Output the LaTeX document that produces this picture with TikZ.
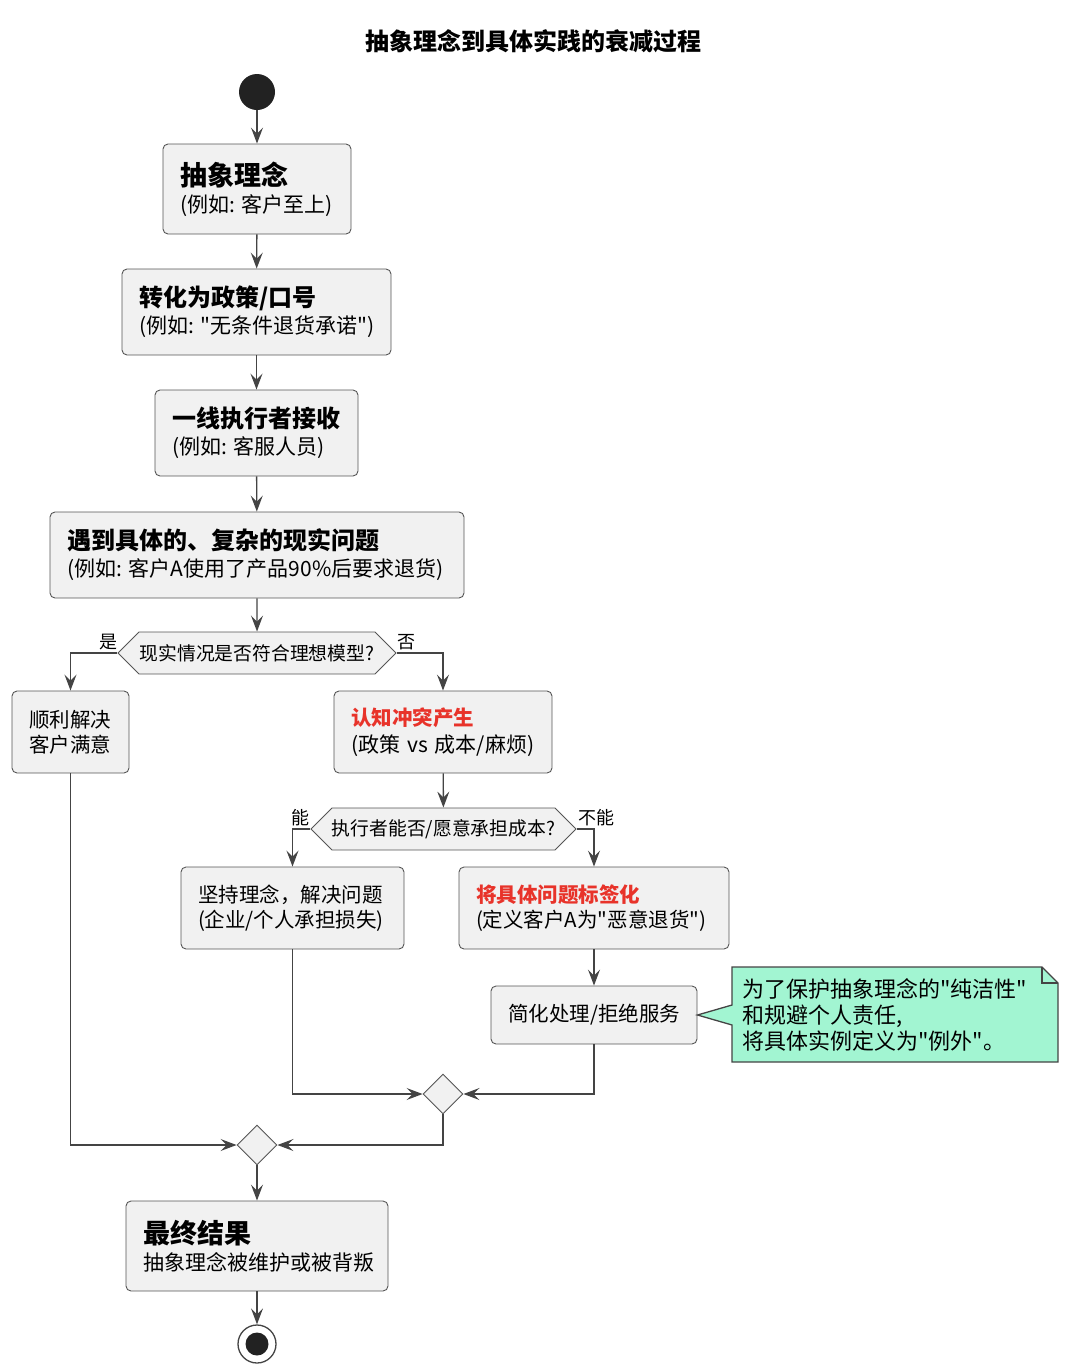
\documentclass[tikz,border=0pt]{standalone}
\usepackage{fontspec}
\setmainfont{Noto Sans CJK SC}[Ligatures=TeXOff]
\usetikzlibrary{arrows.meta,shapes.geometric,shapes.symbols}
\definecolor{boxfill}{HTML}{F1F1F1}
\definecolor{boxline}{HTML}{555555}
\definecolor{flowline}{HTML}{444444}
\definecolor{alertred}{HTML}{E8332A}
\definecolor{notefill}{HTML}{A2F5D2}
\definecolor{dotblack}{HTML}{222222}
\newcommand\boldline[2][24]{{\bfseries\fontsize{#1}{#1}\selectfont #2}}
\tikzset{
  act/.style={draw=boxline, fill=boxfill, rounded corners=5pt, line width=0.9pt, align=left,
    inner xsep=17pt, inner ysep=0pt, font=\fontsize{21}{27}\selectfont},
  ask/.style={signal, signal to=west and east, signal pointer angle=90, draw=boxline,
    fill=boxfill, line width=0.9pt, inner sep=0pt, font=\fontsize{18.8}{22}\selectfont},
  mergebox/.style={diamond, draw=boxline, fill=boxfill, line width=0.9pt, minimum size=40pt, inner sep=0pt},
  flow/.style={draw=flowline, line width=1.4pt, -{Stealth[length=16pt,width=12pt,inset=6pt]}},
  tag/.style={font=\fontsize{18}{20}\selectfont, inner sep=0pt},
}

\begin{document}
\begin{tikzpicture}[x=1pt,y=-1pt]
  %%%%% START %%%%%
  \useasboundingbox (0,0) rectangle (1080,1368);

  \node[font=\bfseries\fontsize{24}{26}\selectfont] (title) at (533,41) {抽象理念到具体实践的衰减过程};

  \node[circle, fill=dotblack, minimum size=36pt, inner sep=0pt] (start) at (257,92) {};

  \node[act, text width=154pt, minimum height=90pt] (abs) at (257,189)
    {\boldline[27]{抽象理念}\\(例如:~客户至上)};
  \node[act, text width=235pt, minimum height=86pt] (pol) at (256.5,312)
    {\boldline{转化为政策/口号}\\(例如:~"无条件退货承诺")};
  \node[act, text width=169pt, minimum height=86pt] (rec) at (256.5,433)
    {\boldline{一线执行者接收}\\(例如:~客服人员)};
  \node[act, text width=380pt, minimum height=86pt] (real) at (257,555)
    {\boldline{遇到具体的、复杂的现实问题}\\(例如:~客户A使用了产品90\%后要求退货)};

  % first decision
  \node[ask, minimum width=278pt, minimum height=42pt] (q1) at (257,653) {现实情况是否符合理想模型?};
  \node[tag] (yes) at (108,642) {是};
  \node[tag] (no) at (406,642) {否};

  \node[act, text width=83pt, minimum height=82pt, font=\fontsize{20.5}{25}\selectfont] (ok) at (70.5,732)
    {顺利解决\\客户满意};
  \node[act, text width=184pt, minimum height=82pt] (conf) at (443,732)
    {\boldline[20.5]{\textcolor{alertred}{认知冲突产生}}\\(政策~vs~成本/麻烦)};

  % second decision
  \node[ask, minimum width=265pt, minimum height=42pt] (q2) at (443.5,829) {执行者能否/愿意承担成本?};
  \node[tag] (can) at (300,818) {能};
  \node[tag] (cannot) at (596,818) {不能};

  \node[act, text width=189pt, minimum height=82pt, font=\fontsize{20.5}{25}\selectfont] (keep) at (292.5,908)
    {坚持理念，解决问题\\(企业/个人承担损失)};
  \node[act, text width=236pt, minimum height=82pt, font=\fontsize{20.5}{25}\selectfont] (label) at (594,908)
    {\boldline[20.5]{\textcolor{alertred}{将具体问题标签化}}\\(定义客户A为"恶意退货")};
  \node[act, text width=172pt, minimum height=58pt, font=\fontsize{20.5}{25}\selectfont] (simp) at (594,1015)
    {简化处理/拒绝服务};

  % note
  \draw[draw=flowline, fill=notefill, line width=1.3pt]
    (732,967) -- (1042,967) -- (1058,983) -- (1058,1062) -- (732,1062) -- (732,1025)
    -- (simp.east) -- (732,1005) -- cycle;
  \draw[draw=flowline, line width=1.3pt] (1042,967) -- (1042,983) -- (1058,983);
  \node[anchor=west, align=left, inner sep=0pt, font=\fontsize{22}{26}\selectfont] (note) at (742,1014.5)
    {为了保护抽象理念的"纯洁性"\\和规避个人责任,\\将具体实例定义为"例外"。};

  \node[mergebox] (m1) at (443,1094) {};
  \node[mergebox] (m2) at (257,1145) {};

  \node[act, text width=228pt, minimum height=90pt] (final) at (257,1246)
    {\boldline[27]{最终结果}\\抽象理念被维护或被背叛};

  \node[circle, draw=flowline, fill=white, line width=1.3pt, minimum size=38pt, inner sep=0pt] (stop) at (257,1344) {};
  \node[circle, fill=dotblack, minimum size=23pt, inner sep=0pt] (stopdot) at (stop.center) {};

  % connectors
  \draw[flow] (start) -- (abs);
  \draw[flow] (abs) -- (pol);
  \draw[flow] (pol) -- (rec);
  \draw[flow] (rec) -- (real);
  \draw[flow] (real) -- (q1);
  \draw[flow] (q1.west) -| (ok);
  \draw[flow] (q1.east) -| (conf);
  \draw[flow] (conf) -- (q2);
  \draw[flow] (q2.west) -| (keep);
  \draw[flow] (q2.east) -| (label);
  \draw[flow] (label) -- (simp);
  \draw[flow] (keep.south) |- (m1);
  \draw[flow] (simp.south) |- (m1);
  \draw[flow] (ok.south) |- (m2);
  \draw[flow] (m1.south) |- (m2);
  \draw[flow] (m2) -- (final);
  \draw[flow] (final) -- (stop);
  %%%%% END %%%%%
\end{tikzpicture}
\end{document}
